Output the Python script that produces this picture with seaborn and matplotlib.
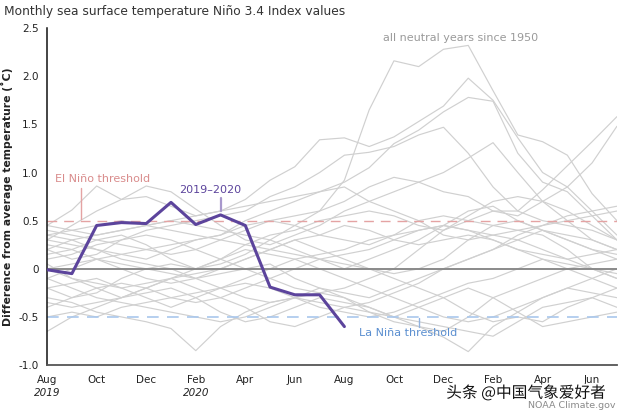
import numpy as np
import pandas as pd
import matplotlib
matplotlib.use("Agg")
import matplotlib.pyplot as plt
import matplotlib.patheffects as pe
import seaborn as sns

# ---- data ----
month_labels = ["Aug", "Sep", "Oct", "Nov", "Dec", "Jan", "Feb", "Mar", "Apr", "May", "Jun", "Jul",
                "Aug", "Sep", "Oct", "Nov", "Dec", "Jan", "Feb", "Mar", "Apr", "May", "Jun", "Jul"]
year_labels = {0: "2019", 6: "2020"}

nino_2019_2020 = [-0.01, -0.05, 0.45, 0.48, 0.47, 0.69, 0.46, 0.56, 0.45, -0.19, -0.27, -0.27, -0.60]

neutral_years = {
    "g01": [0.15, 0.2, 0.3, 0.35, 0.25, 0.1, 0.0, 0.05, 0.15, 0.3, 0.45, 0.6, 0.92, 1.65, 2.16, 2.10, 2.28, 2.32, 1.85, 1.39, 1.32, 1.18, 0.78, 0.5],
    "g02": [0.3, 0.45, 0.6, 0.72, 0.75, 0.65, 0.55, 0.6, 0.72, 0.92, 1.06, 1.34, 1.36, 1.27, 1.37, 1.53, 1.69, 1.98, 1.75, 1.36, 1.0, 0.85, 0.6, 0.35],
    "g03": [-0.1, 0.0, 0.1, 0.15, 0.1, 0.2, 0.3, 0.35, 0.5, 0.6, 0.7, 0.8, 0.9, 1.05, 1.3, 1.44, 1.63, 1.78, 1.74, 1.2, 0.9, 0.8, 0.55, 0.3],
    "g04": [0.2, 0.1, 0.15, 0.3, 0.4, 0.45, 0.5, 0.55, 0.6, 0.75, 0.85, 1.0, 1.18, 1.21, 1.27, 1.39, 1.47, 1.2, 0.85, 0.6, 0.5, 0.45, 0.4, 0.3],
    "g05": [0.45, 0.61, 0.86, 0.72, 0.86, 0.80, 0.62, 0.45, 0.3, 0.25, 0.35, 0.45, 0.6, 0.7, 0.8, 0.9, 1.0, 1.15, 1.31, 1.0, 0.7, 0.5, 0.3, 0.2],
    "g06": [0.4, 0.35, 0.3, 0.25, 0.2, 0.15, 0.2, 0.3, 0.4, 0.5, 0.55, 0.6, 0.7, 0.85, 0.95, 0.9, 0.8, 0.75, 0.6, 0.55, 0.7, 0.85, 1.1, 1.48],
    "g07": [-0.2, -0.3, -0.25, -0.1, 0.0, 0.05, 0.0, 0.1, 0.25, 0.35, 0.4, 0.5, 0.55, 0.6, 0.55, 0.45, 0.4, 0.5, 0.6, 0.6, 0.82, 1.07, 1.32, 1.58],
    "g08": [0.35, 0.3, 0.2, 0.1, 0.05, 0.0, -0.1, -0.2, -0.3, -0.35, -0.3, -0.25, -0.2, -0.1, 0.0, 0.2, 0.4, 0.55, 0.7, 0.75, 0.7, 0.6, 0.45, 0.3],
    "g09": [-0.65, -0.5, -0.4, -0.3, -0.2, -0.1, 0.0, 0.1, 0.2, 0.15, 0.1, 0.0, -0.1, -0.2, -0.3, -0.4, -0.5, -0.55, -0.5, -0.4, -0.3, -0.2, -0.1, 0.0],
    "g10": [-0.3, -0.35, -0.45, -0.5, -0.55, -0.62, -0.85, -0.6, -0.45, -0.35, -0.3, -0.35, -0.4, -0.35, -0.25, -0.15, 0.0, 0.1, 0.2, 0.3, 0.4, 0.35, 0.3, 0.2],
    "g11": [0.05, -0.1, -0.2, -0.3, -0.25, -0.2, -0.3, -0.45, -0.55, -0.5, -0.4, -0.3, -0.35, -0.4, -0.5, -0.6, -0.71, -0.86, -0.6, -0.45, -0.3, -0.2, -0.25, -0.3],
    "g12": [0.25, 0.2, 0.1, 0.0, -0.1, -0.15, -0.1, 0.0, 0.1, 0.2, 0.3, 0.2, 0.1, 0.0, -0.1, -0.2, -0.3, -0.45, -0.55, -0.5, -0.55, -0.4, -0.3, -0.2],
    "g13": [-0.4, -0.3, -0.2, -0.15, -0.2, -0.3, -0.35, -0.3, -0.2, -0.1, 0.0, 0.1, 0.05, 0.0, -0.05, 0.0, 0.1, 0.3, 0.45, 0.5, 0.4, 0.3, 0.2, 0.1],
    "g14": [0.1, 0.15, 0.25, 0.3, 0.35, 0.3, 0.2, 0.1, 0.0, -0.1, -0.2, -0.25, -0.3, -0.45, -0.55, -0.6, -0.65, -0.5, -0.3, -0.2, -0.1, 0.0, 0.05, 0.1],
    "g15": [-0.1, -0.2, -0.3, -0.35, -0.4, -0.45, -0.5, -0.55, -0.5, -0.4, -0.3, -0.2, -0.25, -0.3, -0.2, -0.1, 0.0, 0.1, 0.2, 0.35, 0.45, 0.55, 0.6, 0.65],
    "g16": [0.45, 0.4, 0.35, 0.4, 0.45, 0.5, 0.45, 0.4, 0.35, 0.3, 0.2, 0.1, 0.0, 0.1, 0.2, 0.3, 0.45, 0.6, 0.65, 0.5, 0.4, 0.3, 0.2, 0.15],
    "g17": [-0.35, -0.4, -0.35, -0.3, -0.2, -0.1, -0.05, 0.0, 0.1, 0.2, 0.3, 0.35, 0.45, 0.4, 0.3, 0.25, 0.3, 0.35, 0.3, 0.2, 0.1, 0.0, -0.1, -0.2],
    "g18": [0.0, 0.05, 0.1, 0.05, 0.0, -0.05, -0.1, -0.05, 0.0, 0.05, -0.1, -0.2, -0.3, -0.4, -0.5, -0.55, -0.6, -0.65, -0.7, -0.55, -0.4, -0.35, -0.3, -0.4],
    "g19": [0.3, 0.25, 0.2, 0.15, 0.2, 0.25, 0.3, 0.35, 0.45, 0.5, 0.45, 0.35, 0.3, 0.25, 0.35, 0.5, 0.55, 0.5, 0.45, 0.4, 0.35, 0.2, 0.0, -0.1],
    "g20": [-0.5, -0.45, -0.5, -0.4, -0.35, -0.3, -0.25, -0.2, -0.15, -0.2, -0.3, -0.4, -0.45, -0.5, -0.45, -0.35, -0.25, -0.15, -0.1, 0.0, 0.1, 0.05, 0.0, -0.05],
    "g21": [0.2, 0.3, 0.35, 0.4, 0.45, 0.5, 0.55, 0.6, 0.65, 0.7, 0.75, 0.8, 0.85, 0.7, 0.6, 0.5, 0.35, 0.3, 0.35, 0.4, 0.45, 0.5, 0.55, 0.6],
    "g22": [-0.2, -0.15, -0.1, -0.2, -0.3, -0.4, -0.3, -0.2, -0.1, 0.0, 0.1, 0.15, 0.2, 0.3, 0.35, 0.4, 0.45, 0.4, 0.35, 0.3, 0.2, 0.1, 0.0, -0.1],
    "g23": [0.0, -0.1, -0.15, -0.2, -0.15, -0.1, -0.2, -0.3, -0.4, -0.55, -0.6, -0.5, -0.4, -0.45, -0.5, -0.4, -0.3, -0.2, -0.3, -0.45, -0.6, -0.55, -0.5, -0.45],
    "g24": [0.35, 0.4, 0.45, 0.5, 0.45, 0.4, 0.35, 0.3, 0.25, 0.2, 0.15, 0.1, 0.15, 0.2, 0.3, 0.4, 0.45, 0.4, 0.3, 0.2, 0.15, 0.1, 0.15, 0.2],
}

el_nino_threshold = 0.5
la_nina_threshold = -0.5
y_ticks = [-1.0, -0.5, 0, 0.5, 1.0, 1.5, 2.0, 2.5]
y_tick_labels = ["-1.0", "-0.5", "0", "0.5", "1.0", "1.5", "2.0", "2.5"]

# ---- tables ----
rows = []
for name, vals in neutral_years.items():
    for i, v in enumerate(vals):
        rows.append({"year": name, "month": i, "value": v})
df_gray = pd.DataFrame(rows)
df_cur = pd.DataFrame({"month": np.arange(len(nino_2019_2020)), "value": nino_2019_2020})

# ---- plot ----
sns.set_style("white")
plt.rcParams["font.family"] = ["DejaVu Sans"]

fig = plt.figure(figsize=(6.2, 4.13), dpi=100)
ax = fig.add_axes([0.076, 0.116, 0.919, 0.816])

sns.lineplot(data=df_gray, x="month", y="value", units="year", estimator=None,
             color="#d0d0d0", linewidth=0.85, ax=ax, legend=False, zorder=1)

ax.axhline(el_nino_threshold, color="#e4a3a3", lw=1.0, ls=(0, (7, 5)), zorder=2)
ax.axhline(la_nina_threshold, color="#a9c7ec", lw=1.2, ls=(0, (7, 5)), zorder=2)
ax.axhline(0, color="#8a8a8a", lw=1.4, zorder=2)

sns.lineplot(data=df_cur, x="month", y="value", color="#5c449c", linewidth=2.2,
             ax=ax, legend=False, zorder=5)

ax.set_xlim(0, 23)
ax.set_ylim(-1.0, 2.5)
ax.set_yticks(y_ticks)
ax.set_yticklabels(y_tick_labels)
ax.set_xticks(range(len(month_labels)))
ax.set_xticklabels([m if i % 2 == 0 else "" for i, m in enumerate(month_labels)])
ax.tick_params(axis="both", direction="out", length=4, width=1, colors="#222222",
               labelsize=7.5, pad=2)
ax.tick_params(axis="x", colors="#444444", labelcolor="#222222", pad=3)
ax.set_xlabel("")
ax.set_ylabel("Difference from average temperature (˚C)", fontsize=7.8,
              fontweight="bold", color="#222222", labelpad=4)

for side in ["top", "right"]:
    ax.spines[side].set_visible(False)
ax.spines["left"].set_color("#111111")
ax.spines["left"].set_linewidth(1.1)
ax.spines["bottom"].set_color("#555555")
ax.spines["bottom"].set_linewidth(1.3)

for pos, yl in year_labels.items():
    ax.text(pos, -0.068, yl, transform=ax.get_xaxis_transform(), ha="center", va="top",
            fontsize=7.5, style="italic", color="#222222")

# annotations
ax.text(0.3, 0.93, "El Niño threshold", color="#d98c8c", fontsize=8, ha="left", va="center")
ax.plot([1.35, 1.35], [0.52, 0.84], color="#e4a3a3", lw=1.0)
ax.text(6.6, 0.82, "2019–2020", color="#5c449c", fontsize=8, ha="center", va="center")
ax.plot([7, 7], [0.6, 0.74], color="#a898cc", lw=1.6)
ax.text(12.6, -0.67, "La Niña threshold", color="#5b8fd0", fontsize=8, ha="left", va="center")
ax.plot([15.0, 15.0], [-0.51, -0.6], color="#8fb2e0", lw=1.0)
ax.text(16.7, 2.4, "all neutral years since 1950", color="#9a9a9a", fontsize=8,
        ha="center", va="center")

fig.text(0.006, 0.972, "Monthly sea surface temperature Niño 3.4 Index values",
         fontsize=8.8, color="#333333", ha="left", va="center")

fig.text(0.978, 0.048, "头条 @中国气象爱好者", fontsize=11.3, color="#111111",
         ha="right", va="center", family=["Noto Sans CJK SC", "DejaVu Sans"],
         path_effects=[pe.withStroke(linewidth=2.5, foreground="white")])
fig.text(0.992, 0.018, "NOAA Climate.gov", fontsize=6.8, color="#8a8a8a",
         ha="right", va="center")

fig.savefig("out.png", dpi=100)
